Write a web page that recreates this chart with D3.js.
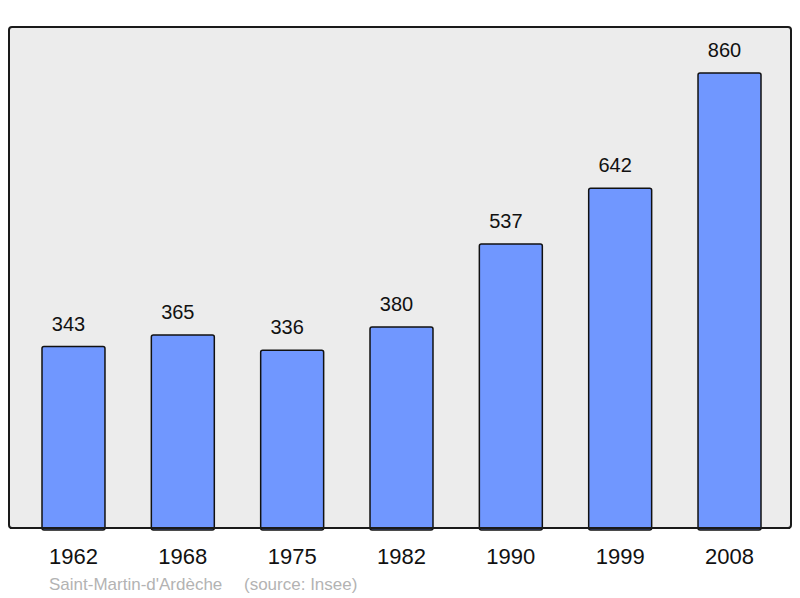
<!DOCTYPE html>
<html>
<head>
<meta charset="utf-8">
<script src="https://cdn.jsdelivr.net/npm/d3@7"></script>
<style>
  body { margin: 0; background: #fff; }
  svg { display: block; font-family: "Liberation Sans", Arial, sans-serif; }
</style>
</head>
<body>
<div id="chart"></div>
<script>
const years = ["1962", "1968", "1975", "1982", "1990", "1999", "2008"];
const population = [343, 365, 336, 380, 537, 642, 860];
const commune = "Saint-Martin-d'Ardèche";
const source = "(source: Insee)";

const width = 800, height = 598;
const base = 528;

const svg = d3.select("#chart")
  .append("svg")
  .attr("width", width)
  .attr("height", height);

// panel
svg.append("rect")
  .attr("x", 9)
  .attr("y", 27)
  .attr("width", 782)
  .attr("height", 501)
  .attr("rx", 3)
  .attr("fill", "#ececec")
  .attr("stroke", "#1a1a1a")
  .attr("stroke-width", 2);

const x = d3.scaleBand()
  .domain(years)
  .range([42, 761])
  .paddingInner(0.424)
  .paddingOuter(0);

const y = d3.scaleLinear()
  .domain([0, 860])
  .range([base, 73]);

const data = years.map((yr, i) => ({ year: yr, value: population[i] }));

svg.selectAll(".bar")
  .data(data)
  .enter()
  .append("rect")
  .attr("class", "bar")
  .attr("x", d => x(d.year))
  .attr("y", d => y(d.value))
  .attr("width", x.bandwidth())
  .attr("height", d => base - y(d.value) + 2)
  .attr("rx", 2)
  .attr("fill", "#7097ff")
  .attr("stroke", "#111")
  .attr("stroke-width", 1.5);

// redraw bottom edge of panel over the bars
svg.append("line")
  .attr("x1", 10).attr("x2", 790)
  .attr("y1", base).attr("y2", base)
  .attr("stroke", "#1a1a1a")
  .attr("stroke-width", 2);

// value labels sit a little left of bar centre
svg.selectAll(".val")
  .data(data)
  .enter()
  .append("text")
  .attr("class", "val")
  .attr("x", d => x(d.year) + x.bandwidth() / 2 - 5)
  .attr("y", d => y(d.value) - 16)
  .attr("text-anchor", "middle")
  .attr("font-size", 20)
  .attr("fill", "#111")
  .text(d => d.value);

const axis = svg.append("g")
  .attr("transform", `translate(0,${base})`)
  .call(d3.axisBottom(x).tickSize(0).tickPadding(20));
axis.select(".domain").remove();
axis.selectAll("text")
  .attr("font-size", 22)
  .attr("font-family", "Liberation Sans, Arial, sans-serif")
  .attr("fill", "#111");

svg.append("text")
  .attr("x", 49)
  .attr("y", 590)
  .attr("font-size", 17)
  .attr("fill", "#b3b3b3")
  .text(commune);

svg.append("text")
  .attr("x", 244)
  .attr("y", 590)
  .attr("font-size", 17)
  .attr("fill", "#b3b3b3")
  .text(source);
</script>
</body>
</html>
